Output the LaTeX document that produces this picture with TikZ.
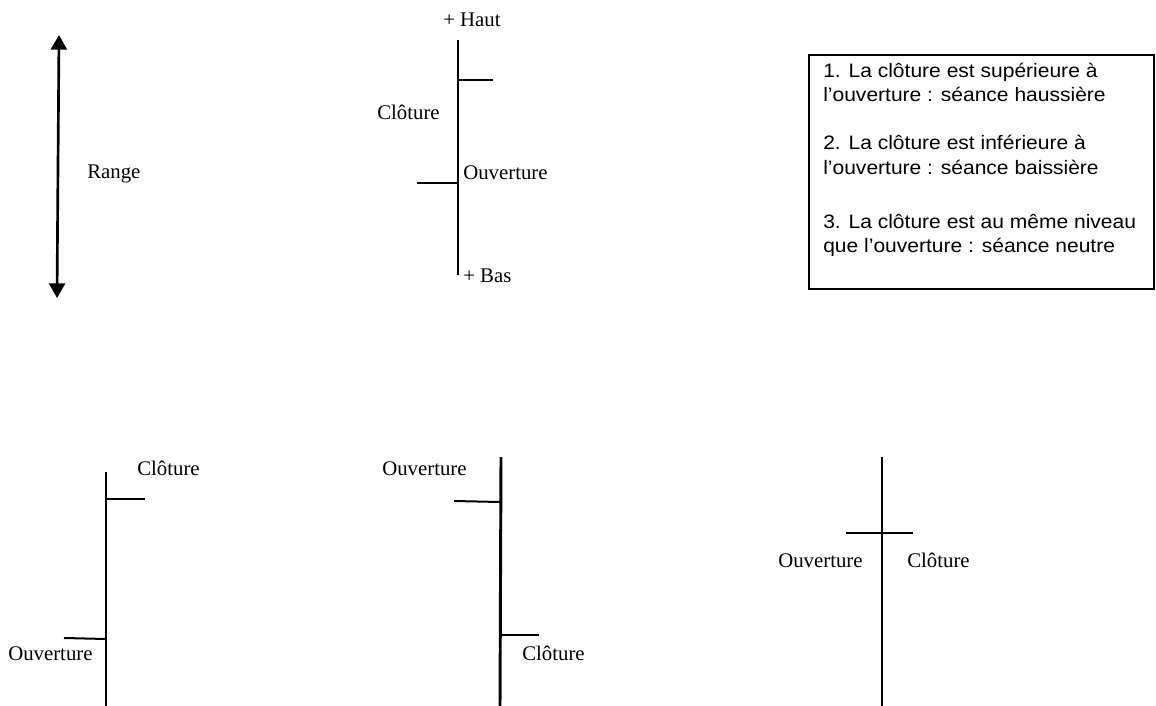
\documentclass[tikz,border=0pt]{standalone}
\usepackage{fontspec}
\setmainfont{Liberation Serif}
\setsansfont[FakeStretch=1.08]{Liberation Sans}
\usetikzlibrary{arrows.meta}
\tikzset{
  wick/.style={line width=2.2pt, line cap=butt},
  tick/.style={line width=1.5pt},
  lbl/.style={font=\fontsize{15.6pt}{18pt}\selectfont, inner sep=0pt, anchor=base west},
  boxtxt/.style={font=\sffamily\fontsize{14.6pt}{17pt}\selectfont, inner sep=0pt, anchor=base west},
  rangearrow/.style={line width=2pt, {Triangle[length=11pt,width=12pt]}-{Triangle[length=11pt,width=12pt]}},
  legendbox/.style={draw, line width=1.6pt, inner sep=0pt}
}
\begin{document}
\begin{tikzpicture}[x=0.75pt,y=-0.75pt]
\useasboundingbox (0,0) rectangle (1156,706);
\fill[white] (0,0) rectangle (1156,706);

% Range arrow
\coordinate (rtop) at (59,35);
\coordinate (rbot) at (57,298);
\draw[rangearrow] (rtop) -- (rbot);
\node[lbl] (range) at (87,179) {Range};

% Top candle
\coordinate (t1) at (458,40);
\coordinate (t2) at (458,275);
\coordinate (tc1) at (458,80);
\coordinate (tc2) at (493,80);
\coordinate (to1) at (417,183);
\coordinate (to2) at (458,183);
\draw[wick] (t1) -- (t2);
\draw[tick] (tc1) -- (tc2);
\draw[tick] (to1) -- (to2);
\node[lbl] (haut) at (443,27) {+ Haut};
\node[lbl] (tclot) at (377,120) {Clôture};
\node[lbl] (touv) at (463,180) {Ouverture};
\node[lbl] (bas) at (463,282) {+ Bas};

% Legend box
\node[legendbox, minimum width=345*0.75pt, minimum height=234*0.75pt, anchor=north west] (legend) at (808,54) {};
\node[boxtxt] (l1) at (823,78) {1. La clôture est supérieure à};
\node[boxtxt] (l2) at (823,102) {l’ouverture : séance haussière};
\node[boxtxt] (l3) at (823,150) {2. La clôture est inférieure à};
\node[boxtxt] (l4) at (823,175) {l’ouverture : séance baissière};
\node[boxtxt] (l5) at (823,228) {3. La clôture est au même niveau};
\node[boxtxt] (l6) at (823,252) {que l’ouverture : séance neutre};

% Candle A (bullish)
\coordinate (a1) at (106,472);
\coordinate (a2) at (106,706);
\coordinate (ac1) at (106,499);
\coordinate (ac2) at (145,499);
\coordinate (ao1) at (64,638);
\coordinate (ao2) at (106,639);
\draw[wick] (a1) -- (a2);
\draw[tick] (ac1) -- (ac2);
\draw[tick] (ao1) -- (ao2);
\node[lbl] (aclot) at (137,475) {Clôture};
\node[lbl] (aouv) at (8,660) {Ouverture};

% Candle B (bearish)
\coordinate (b1) at (501,457);
\coordinate (b2) at (500,706);
\coordinate (bo1) at (454,501);
\coordinate (bo2) at (500,502);
\coordinate (bc1) at (500,635);
\coordinate (bc2) at (539,635);
\draw[wick] (b1) -- (b2);
\draw[tick] (bo1) -- (bo2);
\draw[tick] (bc1) -- (bc2);
\node[lbl] (bouv) at (382,475) {Ouverture};
\node[lbl] (bclot) at (522,660) {Clôture};

% Candle C (neutral)
\coordinate (c1) at (882,457);
\coordinate (c2) at (882,706);
\coordinate (cx1) at (846,533);
\coordinate (cx2) at (913,533);
\draw[wick] (c1) -- (c2);
\draw[tick] (cx1) -- (cx2);
\node[lbl] (couv) at (778,567) {Ouverture};
\node[lbl] (cclot) at (907,567) {Clôture};
\end{tikzpicture}
\end{document}
